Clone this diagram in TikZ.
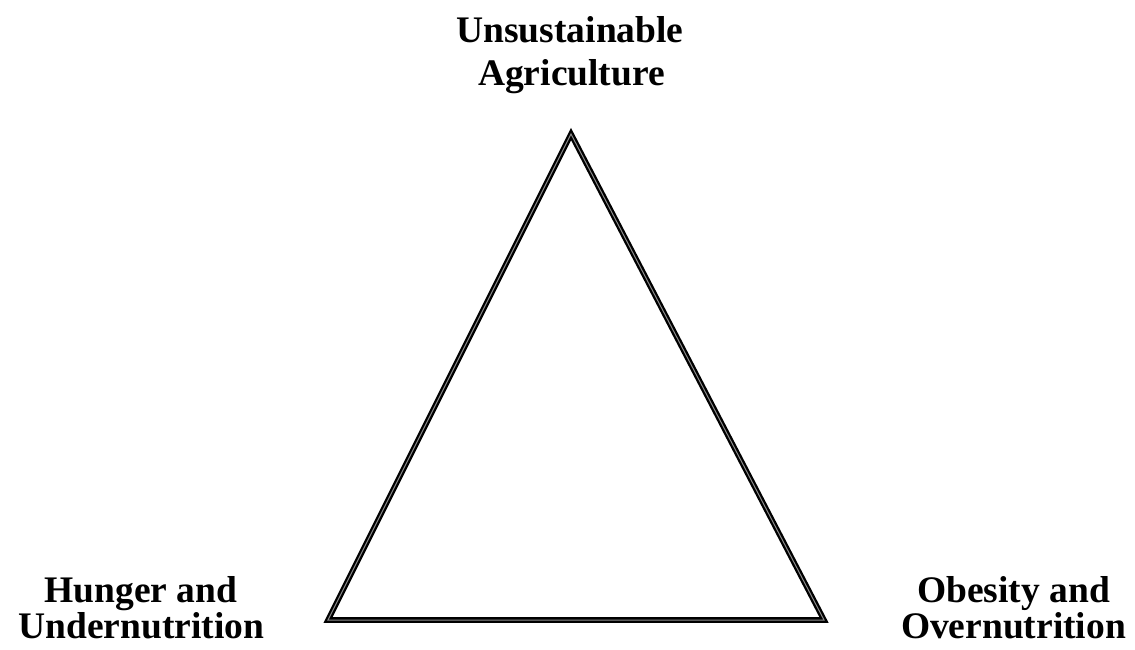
\documentclass[tikz,border=0pt]{standalone}
\usepackage{fontspec}
\setmainfont{Liberation Serif}
\begin{document}
\begin{tikzpicture}[x=1pt,y=-1pt,
  lab/.style={font=\bfseries\fontsize{37.5}{40}\selectfont, inner sep=0pt, anchor=base},
  tri/.style={draw=black, line width=2.3pt, double=black!45, double distance=1pt, line join=miter}]
\useasboundingbox (0,0) rectangle (1135,649);
\coordinate (apex) at (571,134);
\coordinate (bl) at (328,620);
\coordinate (br) at (824,620);
\draw[tri] (apex) -- (bl) -- (br) -- cycle;
\node[lab] (top1) at (570,42.7) {Unsustainable};
\node[lab] (top2) at (571.5,85.7) {Agriculture};
\node[lab] (left1) at (141,602) {Hunger and};
\node[lab] (left2) at (141.5,638) {Undernutrition};
\node[lab] (right1) at (1013.5,602) {Obesity and};
\node[lab] (right2) at (1013.5,638) {Overnutrition};
\end{tikzpicture}
\end{document}
